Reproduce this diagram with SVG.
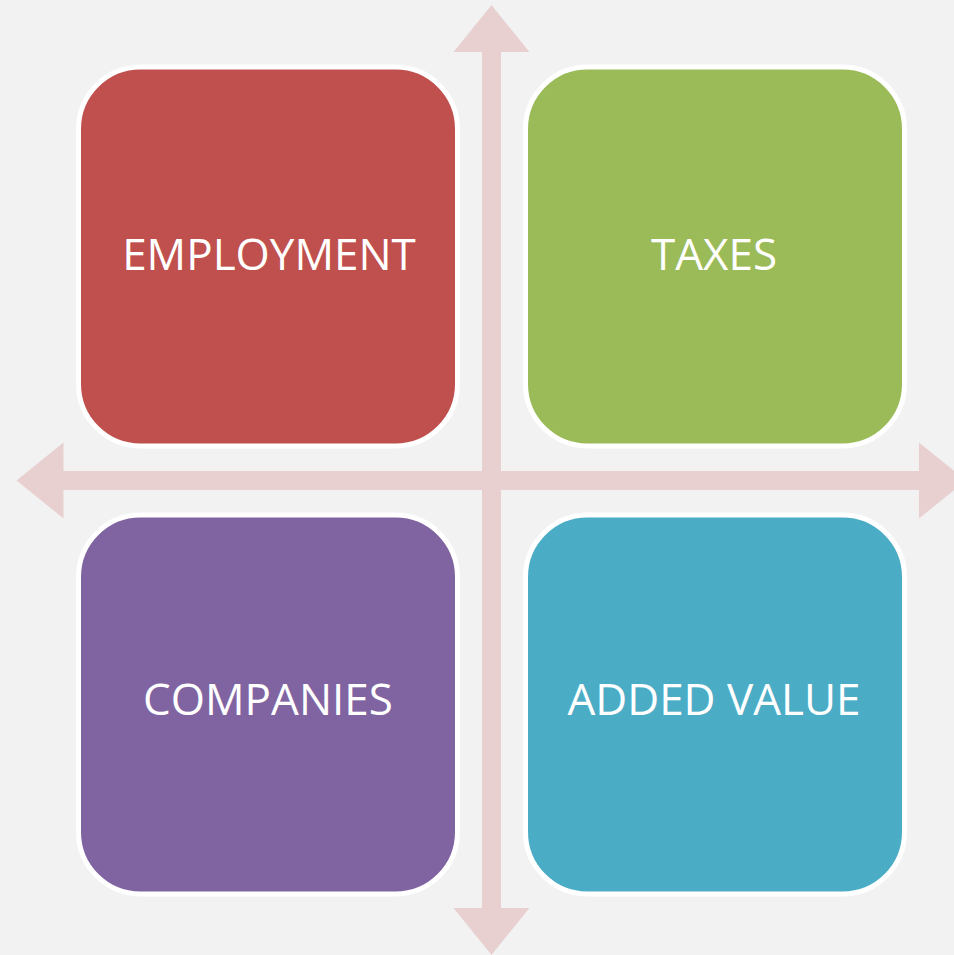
<svg xmlns="http://www.w3.org/2000/svg" width="954" height="955" viewBox="0 0 954 955">
<style>
.arrow{fill:#e8d0d1}
.box{stroke:#ffffff;stroke-width:5}
.lbl{font-family:"Open Sans","Liberation Sans",sans-serif;font-size:44px;fill:#ffffff;text-anchor:middle}
</style>
<rect x="0" y="0" width="954" height="955" fill="#f2f2f2"/>
<g id="connectors">
<polygon class="arrow" points="491.5,5 529.5,52 501,52 501,908 529.5,908 491.5,955 453.5,908 482,908 482,52 453.5,52"/>
<polygon class="arrow" points="16.5,480.5 63.5,442.5 63.5,471 919,471 919,442.5 966,480.5 919,518.5 919,490 63.5,490 63.5,518.5"/>
</g>
<g id="employment">
<rect class="box" x="78.5" y="67" width="379" height="379" rx="62" fill="#c0504d"/>
<text class="lbl" x="269" y="270">EMPLOYMENT</text>
</g>
<g id="taxes">
<rect class="box" x="525.5" y="67" width="379" height="379" rx="62" fill="#9bbb59"/>
<text class="lbl" x="714" y="270">TAXES</text>
</g>
<g id="companies">
<rect class="box" x="78.5" y="515" width="379" height="379" rx="62" fill="#8064a2"/>
<text class="lbl" x="268" y="715">COMPANIES</text>
</g>
<g id="added-value">
<rect class="box" x="525.5" y="515" width="379" height="379" rx="62" fill="#4bacc6"/>
<text class="lbl" x="714" y="715">ADDED VALUE</text>
</g>
</svg>
